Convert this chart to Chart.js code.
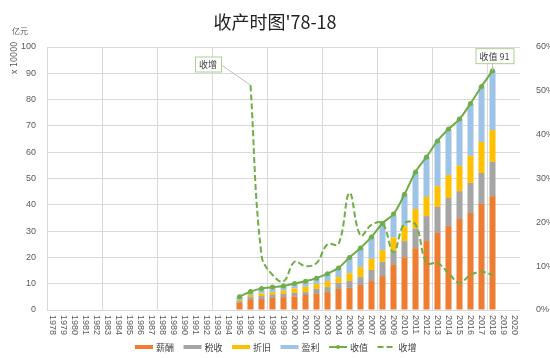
<!DOCTYPE html>
<html>
<head>
<meta charset="utf-8">
<script src="https://cdn.jsdelivr.net/npm/chart.js@4/dist/chart.umd.min.js"></script>
<style>
  html, body { margin: 0; padding: 0; background: #fff; }
  #wrap { width: 550px; height: 358px; }
</style>
</head>
<body>
<div id="wrap"><canvas id="myChart" width="550" height="358"></canvas></div>
<script>
// 年份 (x 轴)
const years = ['1978','1979','1980','1981','1982','1983','1984','1985','1986','1987',
  '1988','1989','1990','1991','1992','1993','1994','1995','1996','1997','1998','1999',
  '2000','2001','2002','2003','2004','2005','2006','2007','2008','2009','2010','2011',
  '2012','2013','2014','2015','2016','2017','2018','2019','2020'];

// 数据从 1995 年到 2018 年
const firstYear = '1995';
const xinchou  = [2.7, 3.8, 4.2, 4.6, 4.9, 5.2, 5.7, 6.1, 6.8, 8.0, 8.4, 9.5, 11.0, 12.9, 17.1, 20.0, 23.5, 26.2, 29.3, 31.9, 34.6, 36.9, 40.3, 43.3];
const shuishou = [0.7, 1.1, 1.1, 1.1, 1.2, 1.3, 1.1, 1.9, 1.9, 2.3, 2.6, 3.0, 4.2, 5.4, 5.4, 6.2, 7.5, 9.5, 9.9, 10.7, 10.6, 11.4, 11.8, 13.0];
const zhejiu   = [0.4, 0.8, 1.0, 1.1, 1.2, 1.7, 2.0, 1.9, 2.3, 2.2, 3.0, 3.8, 4.2, 4.5, 5.0, 5.7, 7.4, 7.3, 7.9, 8.7, 9.6, 10.3, 11.8, 12.1];
const yingli   = [1.2, 1.1, 1.5, 1.6, 1.5, 1.7, 1.9, 2.2, 3.0, 3.5, 6.0, 7.3, 8.4, 10.2, 8.5, 12.1, 14.1, 15.2, 17.2, 17.5, 17.8, 19.7, 21.3, 22.6];
const shouzhi  = [5.0, 7.0, 8.2, 8.7, 9.1, 10.1, 10.9, 12.1, 13.8, 16.0, 20.0, 23.6, 27.8, 33.0, 36.5, 44.0, 52.5, 58.2, 64.3, 68.8, 72.6, 78.5, 85.0, 91.0];
const shouzeng = [null, 51.3, 12.5, 8.0, 6.5, 11.0, 10.0, 10.7, 15.0, 15.0, 26.7, 17.0, 19.4, 19.8, 13.2, 19.8, 19.5, 10.7, 10.7, 8.4, 6.2, 8.0, 8.7, 8.0];

// 左右轴刻度
const leftTicks = [0, 10, 20, 30, 40, 50, 60, 70, 80, 90, 100];
const rightTicks = [0, 10, 20, 30, 40, 50, 60];

// 把 1995 起的数据放到完整的年份轴上
function toSeries(arr) {
  const start = years.indexOf(firstYear);
  return years.map((y, i) => {
    const k = i - start;
    return (k >= 0 && k < arr.length) ? arr[k] : null;
  });
}

const green = '#70AD47';
const cjk = '"Noto Sans CJK SC", "Noto Sans", sans-serif';
const tickColor = '#595959';

// 标题、轴单位、竖排年份、图例和两个标注框
const extras = {
  id: 'extras',
  afterDraw(chart) {
    const ctx = chart.ctx;
    const x = chart.scales.x, y = chart.scales.y, y1 = chart.scales.y1;
    ctx.save();

    // 标题
    ctx.fillStyle = '#222';
    ctx.font = '18px ' + cjk;
    ctx.textAlign = 'center';
    ctx.textBaseline = 'middle';
    ctx.fillText("收产时图'78-18", 275, 22);

    // 单位
    ctx.fillStyle = tickColor;
    ctx.font = '8px ' + cjk;
    ctx.fillText('亿元', 20, 31);
    ctx.save();
    ctx.translate(15, 58);
    ctx.rotate(-Math.PI / 2);
    ctx.font = '8px "DejaVu Sans", sans-serif';
    ctx.fillText('x 10000', 0, 0);
    ctx.restore();

    // 年份标签, 顺时针竖排
    ctx.font = '9px "Liberation Sans", sans-serif';
    ctx.textAlign = 'left';
    ctx.textBaseline = 'middle';
    years.forEach((lab, i) => {
      ctx.save();
      ctx.translate(x.getPixelForTick(i), x.top + 5);
      ctx.rotate(Math.PI / 2);
      ctx.fillText(lab, 0, 0);
      ctx.restore();
    });

    // 图例
    const ly = 347;
    let lx = 135;
    ctx.font = '9px ' + cjk;
    chart.data.datasets.forEach(ds => {
      if (ds.type === 'bar') {
        ctx.fillStyle = ds.backgroundColor;
        ctx.fillRect(lx, ly - 2, 18, 4);
      } else {
        ctx.strokeStyle = ds.borderColor;
        ctx.lineWidth = 2;
        ctx.setLineDash(ds.borderDash || []);
        ctx.beginPath();
        ctx.moveTo(lx, ly);
        ctx.lineTo(lx + 18, ly);
        ctx.stroke();
        ctx.setLineDash([]);
        if (ds.pointRadius) {
          ctx.fillStyle = ds.borderColor;
          ctx.beginPath();
          ctx.arc(lx + 9, ly, 2, 0, Math.PI * 2);
          ctx.fill();
        }
      }
      ctx.fillStyle = '#404040';
      ctx.textAlign = 'left';
      ctx.fillText(ds.label, lx + 21, ly + 1);
      lx += 48.5;
    });

    // 标注框
    function box(text, cx, cy) {
      ctx.font = '9px ' + cjk;
      const w = ctx.measureText(text).width + 8, h = 15;
      ctx.fillStyle = '#fff';
      ctx.fillRect(cx - w / 2, cy - h / 2, w, h);
      ctx.strokeStyle = '#A9D18E';
      ctx.lineWidth = 1;
      ctx.strokeRect(cx - w / 2 + 0.5, cy - h / 2 + 0.5, w, h);
      ctx.fillStyle = '#404040';
      ctx.textAlign = 'center';
      ctx.fillText(text, cx, cy + 1);
      return w;
    }

    const iz = years.indexOf('1996');
    const zx = x.getPixelForValue(iz), zy = y1.getPixelForValue(toSeries(shouzeng)[iz]);
    ctx.strokeStyle = '#BFBFBF';
    ctx.lineWidth = 1;
    ctx.beginPath();
    ctx.moveTo(220, 64);
    ctx.lineTo(zx, zy);
    ctx.stroke();
    box('收增', 208, 64);

    const iv = years.indexOf('2018');
    const vx = x.getPixelForValue(iv), vy = y.getPixelForValue(toSeries(shouzhi)[iv]);
    ctx.strokeStyle = '#BFBFBF';
    ctx.beginPath();
    ctx.moveTo(vx, vy);
    ctx.lineTo(vx, vy - 8);
    ctx.stroke();
    box('收值 91', vx + 2, vy - 15);

    ctx.restore();
  }
};

const barCommon = { type: 'bar', stack: 's', yAxisID: 'y', barPercentage: 0.55, categoryPercentage: 1.0, order: 2 };

new Chart(document.getElementById('myChart'), {
  data: {
    labels: years,
    datasets: [
      { ...barCommon, label: '薪酬', data: toSeries(xinchou), backgroundColor: '#ED7D31' },
      { ...barCommon, label: '税收', data: toSeries(shuishou), backgroundColor: '#A5A5A5' },
      { ...barCommon, label: '折旧', data: toSeries(zhejiu), backgroundColor: '#FFC000' },
      { ...barCommon, label: '盈利', data: toSeries(yingli), backgroundColor: '#9DC3E6' },
      {
        type: 'line', label: '收值', data: toSeries(shouzhi), yAxisID: 'y', order: 1,
        borderColor: green, backgroundColor: green, borderWidth: 2, tension: 0.35,
        pointRadius: 2.5, pointBackgroundColor: green, pointBorderWidth: 0
      },
      {
        type: 'line', label: '收增', data: toSeries(shouzeng), yAxisID: 'y1', order: 0,
        borderColor: green, backgroundColor: 'rgba(0,0,0,0)', borderWidth: 2, borderDash: [6, 3],
        tension: 0.4, pointRadius: 0
      }
    ]
  },
  options: {
    responsive: false,
    animation: false,
    layout: { padding: { top: 47, left: 0, right: 0, bottom: 20 } },
    plugins: {
      title: { display: false },
      tooltip: { enabled: false },
      legend: { display: false }
    },
    scales: {
      x: {
        stacked: true,
        offset: true,
        grid: {
          offset: true,
          drawTicks: false,
          color: c => (c.index % 5 === 0 ? '#D9D9D9' : 'rgba(0,0,0,0)')
        },
        border: { display: false },
        ticks: { autoSkip: false, minRotation: 90, maxRotation: 90, color: 'rgba(0,0,0,0)', font: { size: 9 } },
        afterFit: s => { s.height = 28; }
      },
      y: {
        stacked: true,
        min: 0, max: 100,
        afterBuildTicks: s => { s.ticks = leftTicks.map(v => ({ value: v })); },
        grid: { color: '#D9D9D9', drawTicks: false },
        border: { display: false },
        ticks: { color: tickColor, padding: 11, font: { size: 9, family: '"Liberation Sans", sans-serif' } },
        afterFit: s => { s.width = 47; }
      },
      y1: {
        position: 'right',
        min: 0, max: 60,
        afterBuildTicks: s => { s.ticks = rightTicks.map(v => ({ value: v })); },
        grid: { display: false },
        border: { display: false },
        ticks: { color: tickColor, padding: 8, font: { size: 9, family: '"Liberation Sans", sans-serif' }, callback: v => v + '%' },
        afterFit: s => { s.width = 30; }
      }
    }
  },
  plugins: [extras]
});
</script>
</body>
</html>
